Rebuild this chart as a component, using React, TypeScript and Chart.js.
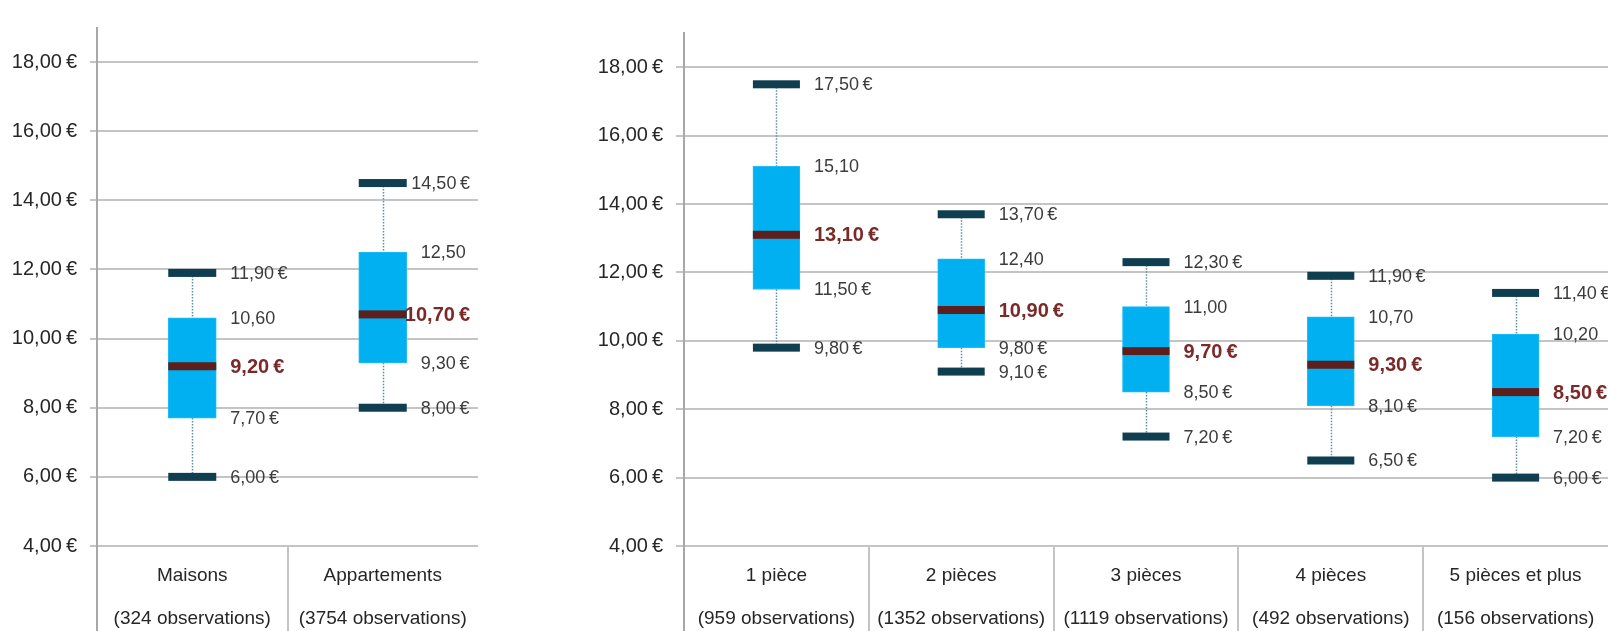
import React, { useEffect, useRef } from 'react';
import { Chart, registerables } from 'chart.js';
Chart.register(...registerables);

// ---------- data ----------
const houseCategories = ['Maisons', 'Appartements'];
const houseObservations = ['(324 observations)', '(3754 observations)'];
const houseMin = [6.0, 8.0];
const houseQ1 = [7.7, 9.3];
const houseMedian = [9.2, 10.7];
const houseQ3 = [10.6, 12.5];
const houseMax = [11.9, 14.5];

const roomCategories = ['1 pièce', '2 pièces', '3 pièces', '4 pièces', '5 pièces et plus'];
const roomObservations = ['(959 observations)', '(1352 observations)', '(1119 observations)', '(492 observations)', '(156 observations)'];
const roomMin = [9.8, 9.1, 7.2, 6.5, 6.0];
const roomQ1 = [11.5, 9.8, 8.5, 8.1, 7.2];
const roomMedian = [13.1, 10.9, 9.7, 9.3, 8.5];
const roomQ3 = [15.1, 12.4, 11.0, 10.7, 10.2];
const roomMax = [17.5, 13.7, 12.3, 11.9, 11.4];

const yTickValues = [4, 6, 8, 10, 12, 14, 16, 18];
const yMin = 4;
const yMax = 19;

// ---------- styles ----------
const BOX = '#00b0f0';
const CAP = '#0e3e50';
const MEDIAN = '#5e1f1c';
const WHISKER = '#5f8fa5';
const GRID = '#c4c4c4';
const AXIS = '#a8a8a8';
const TEXT = '#262626';
const LABEL = '#3c3c3c';
const MEDIAN_TEXT = '#7a2a28';
const FAMILY = '"Liberation Sans", Arial, sans-serif';

const fmt = (v: number, euro: boolean) => v.toFixed(2).replace('.', ',') + (euro ? '\u2009€' : '');

type BoxOpts = {
  min: number[]; q1: number[]; median: number[]; q3: number[]; max: number[];
  clampRight: boolean; gap: number;
};

const boxPlugin = {
  id: 'boxplot',
  beforeDatasetsDraw(chart: any) {
    const o: BoxOpts = chart.options.plugins.boxplot;
    const ctx = chart.ctx;
    const y = chart.scales.y;
    const meta = chart.getDatasetMeta(0);
    ctx.save();
    ctx.strokeStyle = WHISKER;
    ctx.lineWidth = 1.5;
    ctx.setLineDash([1.5, 1.5]);
    meta.data.forEach((bar: any, i: number) => {
      const x = Math.round(bar.x) + 0.5;
      ctx.beginPath();
      ctx.moveTo(x, y.getPixelForValue(o.max[i]));
      ctx.lineTo(x, y.getPixelForValue(o.q3[i]));
      ctx.moveTo(x, y.getPixelForValue(o.q1[i]));
      ctx.lineTo(x, y.getPixelForValue(o.min[i]));
      ctx.stroke();
    });
    ctx.restore();
  },
  afterDatasetsDraw(chart: any) {
    const o: BoxOpts = chart.options.plugins.boxplot;
    const ctx = chart.ctx;
    const y = chart.scales.y;
    const area = chart.chartArea;
    const meta = chart.getDatasetMeta(0);
    ctx.save();
    meta.data.forEach((bar: any, i: number) => {
      const x = bar.x;
      const w = bar.width;
      const left = x - w / 2;
      const barH = 8;
      ctx.fillStyle = CAP;
      [o.min[i], o.max[i]].forEach((v) => {
        ctx.fillRect(left, y.getPixelForValue(v) - barH / 2, w, barH);
      });
      ctx.fillStyle = MEDIAN;
      ctx.fillRect(left, y.getPixelForValue(o.median[i]) - barH / 2, w, barH);

      const items = [
        { v: o.max[i], t: fmt(o.max[i], true), bold: false },
        { v: o.q3[i], t: fmt(o.q3[i], false), bold: false },
        { v: o.median[i], t: fmt(o.median[i], true), bold: true },
        { v: o.q1[i], t: fmt(o.q1[i], true), bold: false },
        { v: o.min[i], t: fmt(o.min[i], true), bold: false },
      ];
      ctx.textBaseline = 'middle';
      ctx.textAlign = 'left';
      items.forEach((it) => {
        ctx.font = it.bold ? `bold 20px ${FAMILY}` : `18px ${FAMILY}`;
        ctx.fillStyle = it.bold ? MEDIAN_TEXT : LABEL;
        let tx = x + w / 2 + o.gap;
        const tw = ctx.measureText(it.t).width;
        if (o.clampRight && tx + tw > area.right - 8) tx = area.right - 8 - tw;
        ctx.fillText(it.t, tx, y.getPixelForValue(it.v) + 1);
      });
    });
    ctx.restore();
  },
};

function makeConfig(
  cats: string[], obs: string[], mn: number[], q1: number[], med: number[], q3: number[], mx: number[],
  yWidth: number, top: number, right: number, barW: number, tickLen: number, clampRight: boolean,
) {
  return {
    type: 'bar',
    data: {
      labels: cats.map((c, i) => [c, obs[i]]),
      datasets: [
        {
          data: q1.map((v, i) => [v, q3[i]]),
          backgroundColor: BOX,
          borderColor: '#22bdf3',
          borderWidth: 1,
          borderSkipped: false,
          barThickness: barW,
        },
      ],
    },
    options: {
      responsive: false,
      animation: false,
      devicePixelRatio: 1,
      layout: { padding: { top, right, left: 0, bottom: 0 } },
      plugins: {
        legend: { display: false },
        tooltip: { enabled: false },
        boxplot: { min: mn, q1, median: med, q3, max: mx, clampRight, gap: 14 },
      },
      scales: {
        x: {
          type: 'category',
          offset: true,
          border: { display: false },
          grid: {
            offset: true,
            drawOnChartArea: false,
            drawTicks: true,
            tickLength: 85,
            lineWidth: 2,
            color: (c: any) => (c.type !== 'tick' ? 'rgba(0,0,0,0)' : c.index === 0 ? AXIS : GRID),
          },
          ticks: {
            color: TEXT,
            padding: -77,
            maxRotation: 0,
            autoSkip: false,
            font: { family: FAMILY, size: 19, lineHeight: '43px' },
          },
          afterFit: (s: any) => { s.height = 85; },
        },
        y: {
          type: 'linear',
          min: yMin,
          max: yMax,
          border: { display: true, color: AXIS, width: 2 },
          grid: { color: GRID, lineWidth: 2, tickLength: tickLen, drawTicks: true },
          afterBuildTicks: (s: any) => { s.ticks = yTickValues.map((v) => ({ value: v })); },
          ticks: {
            color: TEXT,
            padding: 13,
            font: { family: FAMILY, size: 20 },
            callback: (v: any) => fmt(Number(v), true),
          },
          afterFit: (s: any) => { s.width = yWidth; },
        },
      },
    },
    plugins: [boxPlugin],
  } as any;
}

export default function App() {
  const leftRef = useRef<HTMLCanvasElement>(null);
  const rightRef = useRef<HTMLCanvasElement>(null);

  useEffect(() => {
    const c1 = new Chart(leftRef.current!, makeConfig(houseCategories, houseObservations, houseMin, houseQ1, houseMedian, houseQ3, houseMax, 97, 27.5, 42, 48, 7, true));
    const c2 = new Chart(rightRef.current!, makeConfig(roomCategories, roomObservations, roomMin, roomQ1, roomMedian, roomQ3, roomMax, 164, 33, 0, 47, 8, false));
    return () => { c1.destroy(); c2.destroy(); };
  }, []);

  return (
    <div style={{ position: 'fixed', left: 0, top: 0, width: 1608, height: 631, background: '#fff', overflow: 'hidden' }}>
      <canvas ref={leftRef} width={520} height={631} style={{ position: 'absolute', left: 0, top: 0 }} />
      <canvas ref={rightRef} width={1088} height={631} style={{ position: 'absolute', left: 520, top: 0 }} />
    </div>
  );
}
